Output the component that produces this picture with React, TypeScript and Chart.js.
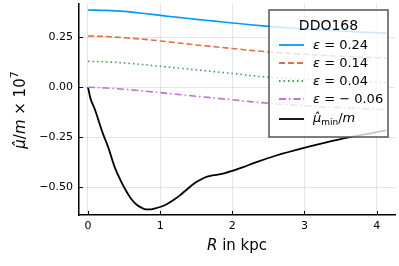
import React, { useEffect, useRef } from "react";
import { Chart, registerables } from "chart.js";

Chart.register(...registerables);

// ---- data ----
const R_SMOOTH = [0, 0.25, 0.5, 0.75, 1.0, 1.25, 1.5, 1.75, 2.0, 2.25, 2.5, 2.75, 3.0, 3.25, 3.5, 3.75, 4.0, 4.13];
const EPS_024 = [0.387, 0.385, 0.38, 0.371, 0.36, 0.35, 0.34, 0.331, 0.322, 0.313, 0.305, 0.298, 0.292, 0.287, 0.282, 0.277, 0.273, 0.271];
const EPS_014 = [0.257, 0.254, 0.248, 0.241, 0.232, 0.222, 0.212, 0.203, 0.194, 0.185, 0.177, 0.171, 0.165, 0.16, 0.155, 0.151, 0.148, 0.146];
const EPS_004 = [0.13, 0.127, 0.122, 0.114, 0.105, 0.096, 0.087, 0.078, 0.069, 0.059, 0.05, 0.045, 0.04, 0.035, 0.031, 0.028, 0.025, 0.023];
const EPS_M006 = [0, -0.004, -0.01, -0.018, -0.027, -0.036, -0.045, -0.054, -0.063, -0.072, -0.08, -0.087, -0.093, -0.098, -0.102, -0.106, -0.11, -0.112];

const R_MIN = [0, 0.01, 0.03, 0.1, 0.2, 0.28, 0.37, 0.45, 0.53, 0.6, 0.68, 0.75, 0.8, 0.86, 0.92, 1.0, 1.09, 1.18, 1.27, 1.36, 1.457, 1.55, 1.62, 1.7, 1.8, 1.9, 1.99, 2.15, 2.335, 2.61, 2.98, 3.26, 3.63, 3.9, 4.13];
const MU_MIN = [0, -0.015, -0.05, -0.115, -0.225, -0.3, -0.4, -0.465, -0.52, -0.56, -0.59, -0.605, -0.612, -0.612, -0.608, -0.6, -0.586, -0.566, -0.543, -0.515, -0.486, -0.465, -0.452, -0.444, -0.438, -0.43, -0.42, -0.4, -0.375, -0.342, -0.305, -0.28, -0.25, -0.232, -0.216];

const X_TICKS = [0, 1, 2, 3, 4];
const Y_TICKS = [-0.5, -0.25, 0, 0.25];
const EPS_LABELS = ["0.24", "0.14", "0.04", "\u2212 0.06"];
const LEGEND_TITLE = "DDO168";

const COLORS = ["#009AFA", "#E36F47", "#3EA44E", "#C271D2", "#000000"];
const DASHES: number[][] = [[], [6, 3], [1.5, 3], [7, 3, 1.5, 3], []];

const FONT = "'DejaVu Sans', sans-serif";

function toPts(xs: number[], ys: number[]) {
  return xs.map((x, i) => ({ x, y: ys[i] }));
}

const overlayPlugin = {
  id: "overlay",
  afterDraw(chart: any) {
    const ctx: CanvasRenderingContext2D = chart.ctx;
    const area = chart.chartArea;
    const xs = chart.scales.x;
    const ys = chart.scales.y;
    ctx.save();
    // inward ticks
    ctx.strokeStyle = "#000";
    ctx.lineWidth = 1;
    X_TICKS.forEach((t) => {
      const px = Math.round(xs.getPixelForValue(t)) + 0.5;
      ctx.beginPath();
      ctx.moveTo(px, area.bottom);
      ctx.lineTo(px, area.bottom - 4);
      ctx.stroke();
    });
    Y_TICKS.forEach((t) => {
      const py = Math.round(ys.getPixelForValue(t)) + 0.5;
      ctx.beginPath();
      ctx.moveTo(area.left, py);
      ctx.lineTo(area.left + 4, py);
      ctx.stroke();
    });

    // x title
    ctx.fillStyle = "#000";
    ctx.textBaseline = "middle";
    const xFont = 15;
    ctx.font = `italic ${xFont}px ${FONT}`;
    const wR = ctx.measureText("R").width;
    ctx.font = `${xFont}px ${FONT}`;
    const wRest = ctx.measureText(" in kpc").width;
    const cx = (area.left + area.right) / 2;
    let x0 = cx - (wR + wRest) / 2;
    ctx.textAlign = "left";
    ctx.font = `italic ${xFont}px ${FONT}`;
    ctx.fillText("R", x0, 246);
    ctx.font = `${xFont}px ${FONT}`;
    ctx.fillText(" in kpc", x0 + wR, 246);

    // y title (rotated)
    ctx.save();
    ctx.translate(21, 110);
    ctx.rotate(-Math.PI / 2);
    const yF = 15;
    const parts: [string, string, number][] = [
      ["\u03BC\u0302", `italic ${yF}px ${FONT}`, 0],
      ["/", `${yF}px ${FONT}`, 0],
      ["m", `italic ${yF}px ${FONT}`, 0],
      [" \u00D7 10", `${yF}px ${FONT}`, 0],
      ["7", `${Math.round(yF * 0.7)}px ${FONT}`, -6],
    ];
    let total = 0;
    parts.forEach(([t, f]) => {
      ctx.font = f;
      total += ctx.measureText(t).width;
    });
    let px = -total / 2;
    parts.forEach(([t, f, dy]) => {
      ctx.font = f;
      ctx.fillText(t, px, dy);
      px += ctx.measureText(t).width;
    });
    ctx.restore();

    // legend
    const L = 269, T = 10, Rr = 388, B = 137;
    ctx.fillStyle = "rgba(255,255,255,0.78)";
    ctx.fillRect(L, T, Rr - L, B - T);
    ctx.strokeStyle = "#555";
    ctx.lineWidth = 1.5;
    ctx.strokeRect(L, T, Rr - L, B - T);
    ctx.fillStyle = "#000";
    ctx.textAlign = "center";
    ctx.font = `14px ${FONT}`;
    ctx.fillText(LEGEND_TITLE, (L + Rr) / 2, 26);
    const rows = [45, 63, 81, 99, 119];
    rows.forEach((ry, i) => {
      ctx.strokeStyle = COLORS[i];
      ctx.lineWidth = 1.8;
      ctx.setLineDash(DASHES[i]);
      ctx.beginPath();
      ctx.moveTo(279, ry);
      ctx.lineTo(304, ry);
      ctx.stroke();
      ctx.setLineDash([]);
      ctx.fillStyle = "#000";
      ctx.textAlign = "left";
      let tx = 313;
      if (i < 4) {
        ctx.font = `italic 13px ${FONT}`;
        ctx.fillText("\u03B5", tx, ry + 1);
        tx += ctx.measureText("\u03B5").width;
        ctx.font = `13px ${FONT}`;
        ctx.fillText(" = " + EPS_LABELS[i], tx, ry + 1);
      } else {
        ctx.font = `italic 13px ${FONT}`;
        ctx.fillText("\u03BC\u0302", tx, ry);
        tx += ctx.measureText("\u03BC").width;
        ctx.font = `9px ${FONT}`;
        ctx.fillText("min", tx, ry + 4);
        tx += ctx.measureText("min").width;
        ctx.font = `13px ${FONT}`;
        ctx.fillText("/", tx, ry);
        tx += ctx.measureText("/").width;
        ctx.font = `italic 13px ${FONT}`;
        ctx.fillText("m", tx, ry);
      }
    });
    ctx.restore();
  },
};

export default function App() {
  const ref = useRef<HTMLCanvasElement | null>(null);
  useEffect(() => {
    if (!ref.current) return;
    const series = [EPS_024, EPS_014, EPS_004, EPS_M006];
    const datasets: any[] = series.map((s, i) => ({
      label: "eps",
      data: toPts(R_SMOOTH, s),
      borderColor: COLORS[i],
      borderDash: DASHES[i],
      borderWidth: 1.6,
      pointRadius: 0,
      cubicInterpolationMode: "monotone",
      fill: false,
    }));
    datasets.push({
      label: "min",
      data: toPts(R_MIN, MU_MIN),
      borderColor: COLORS[4],
      borderWidth: 1.8,
      pointRadius: 0,
      cubicInterpolationMode: "monotone",
      fill: false,
    });
    const chart = new Chart(ref.current, {
      type: "line",
      data: { datasets },
      options: {
        responsive: false,
        animation: false,
        layout: { padding: { left: 0, top: 4, right: 4, bottom: 0 } },
        plugins: { legend: { display: false }, tooltip: { enabled: false } },
        scales: {
          x: {
            type: "linear",
            min: -0.124,
            max: 4.254,
            afterBuildTicks: (s: any) => {
              s.ticks = X_TICKS.map((v) => ({ value: v }));
            },
            afterFit: (s: any) => {
              s.height = 51;
              s.paddingLeft = 0;
              s.paddingRight = 0;
            },
            ticks: {
              color: "#000",
              font: { family: FONT, size: 11 },
              padding: 5,
              maxRotation: 0,
              callback: (v: any) => String(v),
            },
            grid: { color: "rgba(0,0,0,0.1)", lineWidth: 1, drawTicks: false },
            border: { display: true, color: "#000", width: 1.5 },
          },
          y: {
            type: "linear",
            min: -0.64,
            max: 0.417,
            afterBuildTicks: (s: any) => {
              s.ticks = Y_TICKS.map((v) => ({ value: v }));
            },
            afterFit: (s: any) => {
              s.width = 79;
              s.paddingTop = 0;
              s.paddingBottom = 0;
            },
            ticks: {
              color: "#000",
              font: { family: FONT, size: 11 },
              padding: 6,
              callback: (v: any) => Number(v).toFixed(2).replace("-", "\u2212"),
            },
            grid: { color: "rgba(0,0,0,0.1)", lineWidth: 1, drawTicks: false },
            border: { display: true, color: "#000", width: 1.5 },
          },
        },
      },
      plugins: [overlayPlugin],
    });
    return () => chart.destroy();
  }, []);
  return (
    <div style={{ position: "fixed", left: 0, top: 0, width: 399, height: 266, background: "#fff" }}>
      <canvas ref={ref} width={399} height={266} style={{ display: "block" }} />
    </div>
  );
}
